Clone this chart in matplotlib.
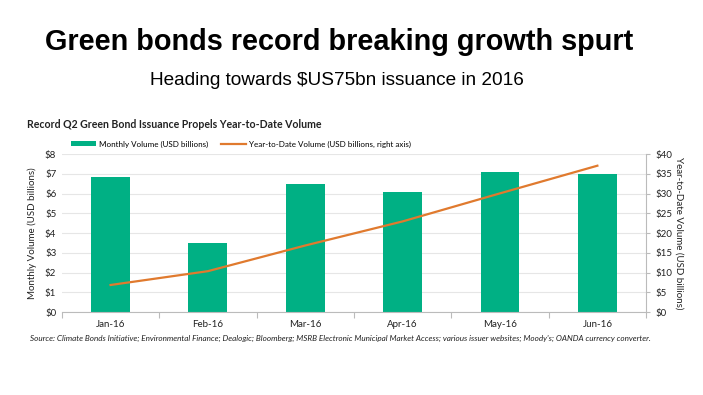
import matplotlib
matplotlib.use("Agg")
import matplotlib.pyplot as plt
import numpy as np
from matplotlib.ticker import FuncFormatter

months = ["Jan-16", "Feb-16", "Mar-16", "Apr-16", "May-16", "Jun-16"]
monthly = [6.85, 3.5, 6.5, 6.1, 7.1, 7.0]
ytd = [6.85, 10.35, 16.85, 22.95, 30.05, 37.05]

left_ticks = list(range(0, 9))
right_ticks = list(range(0, 41, 5))

GREEN = "#00b084"
ORANGE = "#e07a2e"
GRID = "#e6e6e6"
TXT = "#222222"

plt.rcParams["font.family"] = ["Lato", "DejaVu Sans"]

fig = plt.figure(figsize=(7.03, 3.95), dpi=100)
ax = fig.add_axes([0.088, 0.210, 0.831, 0.400])
ax2 = ax.twinx()

x = np.arange(len(months))
ax.bar(x, monthly, width=0.4, color=GREEN, zorder=2,
       label="Monthly Volume (USD billions)")
ax2.plot(x, ytd, color=ORANGE, linewidth=1.6,
         label="Year-to-Date Volume (USD billions, right axis)")

ax.set_xlim(-0.5, len(months) - 0.5)
ax.set_ylim(0, 8)
ax2.set_ylim(0, 40)
ax.set_yticks(left_ticks)
ax2.set_yticks(right_ticks)
ax.yaxis.set_major_formatter(FuncFormatter(lambda v, p: f"${v:.0f}"))
ax2.yaxis.set_major_formatter(FuncFormatter(lambda v, p: f"${v:.0f}"))
ax.grid(axis="y", color=GRID, linewidth=0.8, zorder=0)
ax.set_axisbelow(True)

ax.set_xticks(x)
ax.set_xticklabels(months)
ax.set_xticks(np.arange(-0.5, len(months)), minor=True)
ax.tick_params(axis="x", which="major", length=0, labelsize=7, colors=TXT, pad=6)
ax.tick_params(axis="x", which="minor", length=4, color="#bbbbbb", width=0.8)
ax.tick_params(axis="y", length=0, labelsize=7, colors=TXT, pad=4)
ax2.tick_params(axis="y", length=3, labelsize=7, colors=TXT, pad=4, color="#bbbbbb")

for s in ["top", "left", "right"]:
    ax.spines[s].set_visible(False)
for s in ["top", "left", "bottom"]:
    ax2.spines[s].set_visible(False)
ax.spines["bottom"].set_color("#bbbbbb")
ax2.spines["right"].set_color("#bbbbbb")
ax2.spines["right"].set_linewidth(0.8)

ax.set_ylabel("Monthly Volume (USD billions)", fontsize=7, color=TXT, labelpad=6)
ax2.set_ylabel("Year-to-Date Volume (USD billions)", fontsize=7, color=TXT,
               rotation=-90, labelpad=8)

h1, l1 = ax.get_legend_handles_labels()
h2, l2 = ax2.get_legend_handles_labels()
fig.legend(h1 + h2, l1 + l2, loc="center left", bbox_to_anchor=(0.091, 0.635),
           ncol=2, frameon=False, fontsize=5.8, handlelength=3.1,
           handleheight=0.6, columnspacing=1.5, handletextpad=0.4)

fig.text(0.483, 0.893, "Green bonds record breaking growth spurt",
         ha="center", va="center", fontsize=20.8, fontweight="bold",
         family="Liberation Sans", color="black")
fig.text(0.479, 0.797, "Heading towards $US75bn issuance in 2016",
         ha="center", va="center", fontsize=13.7, family="Liberation Sans",
         color="black")
fig.text(0.038, 0.684, "Record Q2 Green Bond Issuance Propels Year-to-Date Volume",
         ha="left", va="center", fontsize=7.6, fontweight="bold", color=TXT)
fig.text(0.043, 0.142,
         "Source: Climate Bonds Initiative; Environmental Finance; Dealogic; Bloomberg; "
         "MSRB Electronic Municipal Market Access; various issuer websites; Moody's; "
         "OANDA currency converter.",
         ha="left", va="center", fontsize=5.83, style="italic", color=TXT)

fig.savefig("out.png", dpi=100)
